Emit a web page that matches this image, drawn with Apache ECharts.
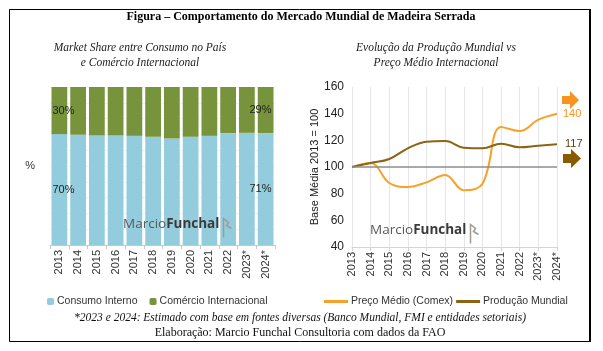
<!DOCTYPE html>
<html>
<head>
<meta charset="utf-8">
<script src="https://cdn.jsdelivr.net/npm/echarts@6/dist/echarts.min.js"></script>
<style>
  html, body { margin: 0; padding: 0; background: #fff; }
  #chart { width: 603px; height: 351px; }
</style>
</head>
<body>
<div id="chart"></div>
<script>
// dados
const years = ['2013', '2014', '2015', '2016', '2017', '2018', '2019', '2020', '2021', '2022', '2023*', '2024*'];
const consumoInterno = [70.2, 69.8, 69.3, 69.3, 69.1, 68.5, 67.4, 68.5, 69.1, 70.8, 71.0, 70.8];
const comercioInternacional = [29.8, 30.2, 30.7, 30.7, 30.9, 31.5, 32.6, 31.5, 30.9, 29.2, 29.0, 29.2];
const precoMedio = [100, 103, 88, 85, 88.5, 94, 82.5, 87.5, 130, 127, 135.5, 140];
const producaoMundial = [100, 103, 106, 114, 119, 119.5, 114.5, 114, 117.5, 114.8, 116, 117];
const priceTicks = [40, 60, 80, 100, 120, 140, 160];

const sansFont = 'Liberation Sans, Arial, sans-serif';
const serifFont = 'Liberation Serif, Times New Roman, serif';
const last = years.length - 1;

// rótulos só no primeiro e no último ano
function edgeLabels(values) {
  return values.map(function (v, i) {
    if (i === 0) return { value: v, label: { show: true, position: 'insideLeft', offset: [-4, 0] } };
    if (i === last) return { value: v, label: { show: true, position: 'insideRight', offset: [3, 0] } };
    return v;
  });
}

const chart = echarts.init(document.getElementById('chart'));

const watermark = function (x, y) {
  return {
    type: 'group', left: x, top: y, silent: true, z: 100,
    children: [
      { type: 'text', left: 0, top: 1, z: 100, style: {
        text: '{a|Marcio}{b|Funchal}',
        rich: {
          a: { fontFamily: 'Open Sans, sans-serif', fontSize: 13.5, fill: '#5a5a5a' },
          b: { fontFamily: 'Open Sans, sans-serif', fontSize: 13.5, fontWeight: 'bold', fill: '#3a3a3a' }
        }
      } },
      { type: 'polyline', left: 98, top: 0, z: 100, shape: { points: [[0, 19], [0, 0], [5, 4], [3, 7], [8, 10]] },
        style: { stroke: '#a09a96', lineWidth: 1.5, fill: null } }
    ]
  };
};

const option = {
  animation: false,
  textStyle: { fontFamily: sansFont },
  graphic: [
    { type: 'rect', shape: { x: 9.5, y: 9.5, width: 580, height: 332 }, style: { fill: null, stroke: '#000', lineWidth: 1 } },
    { type: 'line', shape: { x1: 590, y1: 9, x2: 590, y2: 342 }, style: { stroke: '#000', lineWidth: 2 } },
    { type: 'text', x: 301, y: 17, style: { text: 'Figura – Comportamento do Mercado Mundial de Madeira Serrada', font: 'bold 12px ' + serifFont, fill: '#000', align: 'center', verticalAlign: 'middle' } },
    { type: 'text', x: 140, y: 48, style: { text: 'Market Share entre Consumo no País', font: 'italic 11.5px ' + serifFont, fill: '#222', align: 'center', verticalAlign: 'middle' } },
    { type: 'text', x: 140, y: 63, style: { text: 'e Comércio Internacional', font: 'italic 11.5px ' + serifFont, fill: '#222', align: 'center', verticalAlign: 'middle' } },
    { type: 'text', x: 436, y: 48, style: { text: 'Evolução da Produção Mundial vs', font: 'italic 11.5px ' + serifFont, fill: '#222', align: 'center', verticalAlign: 'middle' } },
    { type: 'text', x: 436, y: 63, style: { text: 'Preço Médio Internacional', font: 'italic 11.5px ' + serifFont, fill: '#222', align: 'center', verticalAlign: 'middle' } },
    { type: 'text', x: 300, y: 318, style: { text: '*2023 e 2024: Estimado com base em fontes diversas (Banco Mundial, FMI e entidades setoriais)', font: 'italic 11.5px ' + serifFont, fill: '#111', align: 'center', verticalAlign: 'middle' } },
    { type: 'text', x: 300, y: 333, style: { text: 'Elaboração: Marcio Funchal Consultoria com dados da FAO', font: '12px ' + serifFont, fill: '#111', align: 'center', verticalAlign: 'middle' } },
    watermark(123, 216),
    watermark(370, 222),
    // setas
    { type: 'polygon', shape: { points: [[562, 96], [570, 96], [570, 91], [579, 100], [570, 109], [570, 104], [562, 104]] }, style: { fill: '#F7931E' } },
    { type: 'polygon', shape: { points: [[563, 154], [571, 154], [571, 149], [581, 158.5], [571, 168], [571, 163], [563, 163]] }, style: { fill: '#8B5A00' } }
  ],
  legend: [
    {
      data: ['Consumo Interno', 'Comércio Internacional'],
      left: 42, top: 291, itemWidth: 7, itemHeight: 7, itemGap: 12,
      textStyle: { fontSize: 10.5, color: '#333', fontFamily: sansFont, padding: [0, 0, 0, -2] }
    },
    {
      data: ['Preço Médio (Comex)', 'Produção Mundial'],
      left: 319, top: 291, itemWidth: 24, itemHeight: 3, itemGap: 3,
      icon: 'rect',
      textStyle: { fontSize: 10.5, color: '#333', fontFamily: sansFont, padding: [0, 0, 0, -2] }
    }
  ],
  grid: [
    { left: 50, right: 328, top: 87, bottom: 106 },
    { left: 352, right: 46, top: 87, bottom: 104 }
  ],
  xAxis: [
    {
      type: 'category', gridIndex: 0, data: years,
      axisLine: { lineStyle: { color: '#c8c8c8' } },
      axisTick: { show: true, lineStyle: { color: '#c8c8c8' }, length: 4 },
      axisLabel: { rotate: 90, fontSize: 11, color: '#333', margin: 5 }
    },
    {
      type: 'category', gridIndex: 1, data: years, boundaryGap: false,
      axisLine: { lineStyle: { color: '#d4d4d4' } },
      axisTick: { show: true, lineStyle: { color: '#d4d4d4' }, length: 4 },
      axisLabel: { rotate: 90, fontSize: 11, color: '#333', margin: 5 },
      splitLine: { show: true, lineStyle: { color: '#e6e6e6' } }
    }
  ],
  yAxis: [
    {
      type: 'value', gridIndex: 0, min: 0, max: 100, interval: 10,
      name: '%', nameLocation: 'middle', nameRotate: 0, nameGap: 15,
      nameTextStyle: { fontSize: 11, color: '#333' },
      axisLabel: { show: false }, axisLine: { show: false }, axisTick: { show: false },
      splitLine: { show: true, lineStyle: { color: '#f2f2f2' } }
    },
    {
      type: 'value', gridIndex: 1, min: priceTicks[0], max: priceTicks[priceTicks.length - 1], interval: 20,
      name: 'Base Média 2013 = 100', nameLocation: 'middle', nameGap: 31,
      nameTextStyle: { fontSize: 11, color: '#222' },
      axisLabel: { fontSize: 12, color: '#222', margin: 8 },
      axisLine: { show: false }, axisTick: { show: false },
      splitLine: { show: false }
    }
  ],
  series: [
    {
      name: 'Consumo Interno', type: 'bar', stack: 'share', xAxisIndex: 0, yAxisIndex: 0,
      data: edgeLabels(consumoInterno), barWidth: '84%',
      itemStyle: { color: '#93CDDD' },
      label: { show: false, fontSize: 11, color: '#222', formatter: function (p) { return Math.round(p.value) + '%'; } }
    },
    {
      name: 'Comércio Internacional', type: 'bar', stack: 'share', xAxisIndex: 0, yAxisIndex: 0,
      data: edgeLabels(comercioInternacional), barWidth: '84%',
      itemStyle: { color: '#77933C' },
      label: { show: false, fontSize: 11, color: '#222', formatter: function (p) { return Math.round(p.value) + '%'; } }
    },
    {
      name: 'Preço Médio (Comex)', type: 'line', xAxisIndex: 1, yAxisIndex: 1,
      data: precoMedio, smooth: 0.4, symbol: 'none',
      lineStyle: { color: '#F7A12B', width: 2 }, itemStyle: { color: '#F7A12B' },
      endLabel: { show: true, fontSize: 11, color: '#F7931E', distance: 6 },
      markLine: {
        silent: true, symbol: 'none', label: { show: false },
        lineStyle: { color: '#8c8c8c', type: 'solid', width: 1.5 },
        data: [{ yAxis: 100 }]
      },
      z: 3
    },
    {
      name: 'Produção Mundial', type: 'line', xAxisIndex: 1, yAxisIndex: 1,
      data: producaoMundial, smooth: 0.4, symbol: 'none',
      lineStyle: { color: '#8C6414', width: 2 }, itemStyle: { color: '#8C6414' },
      endLabel: { show: true, fontSize: 11, color: '#5a4010', distance: 8 },
      z: 4
    }
  ]
};

chart.setOption(option);
</script>
</body>
</html>
